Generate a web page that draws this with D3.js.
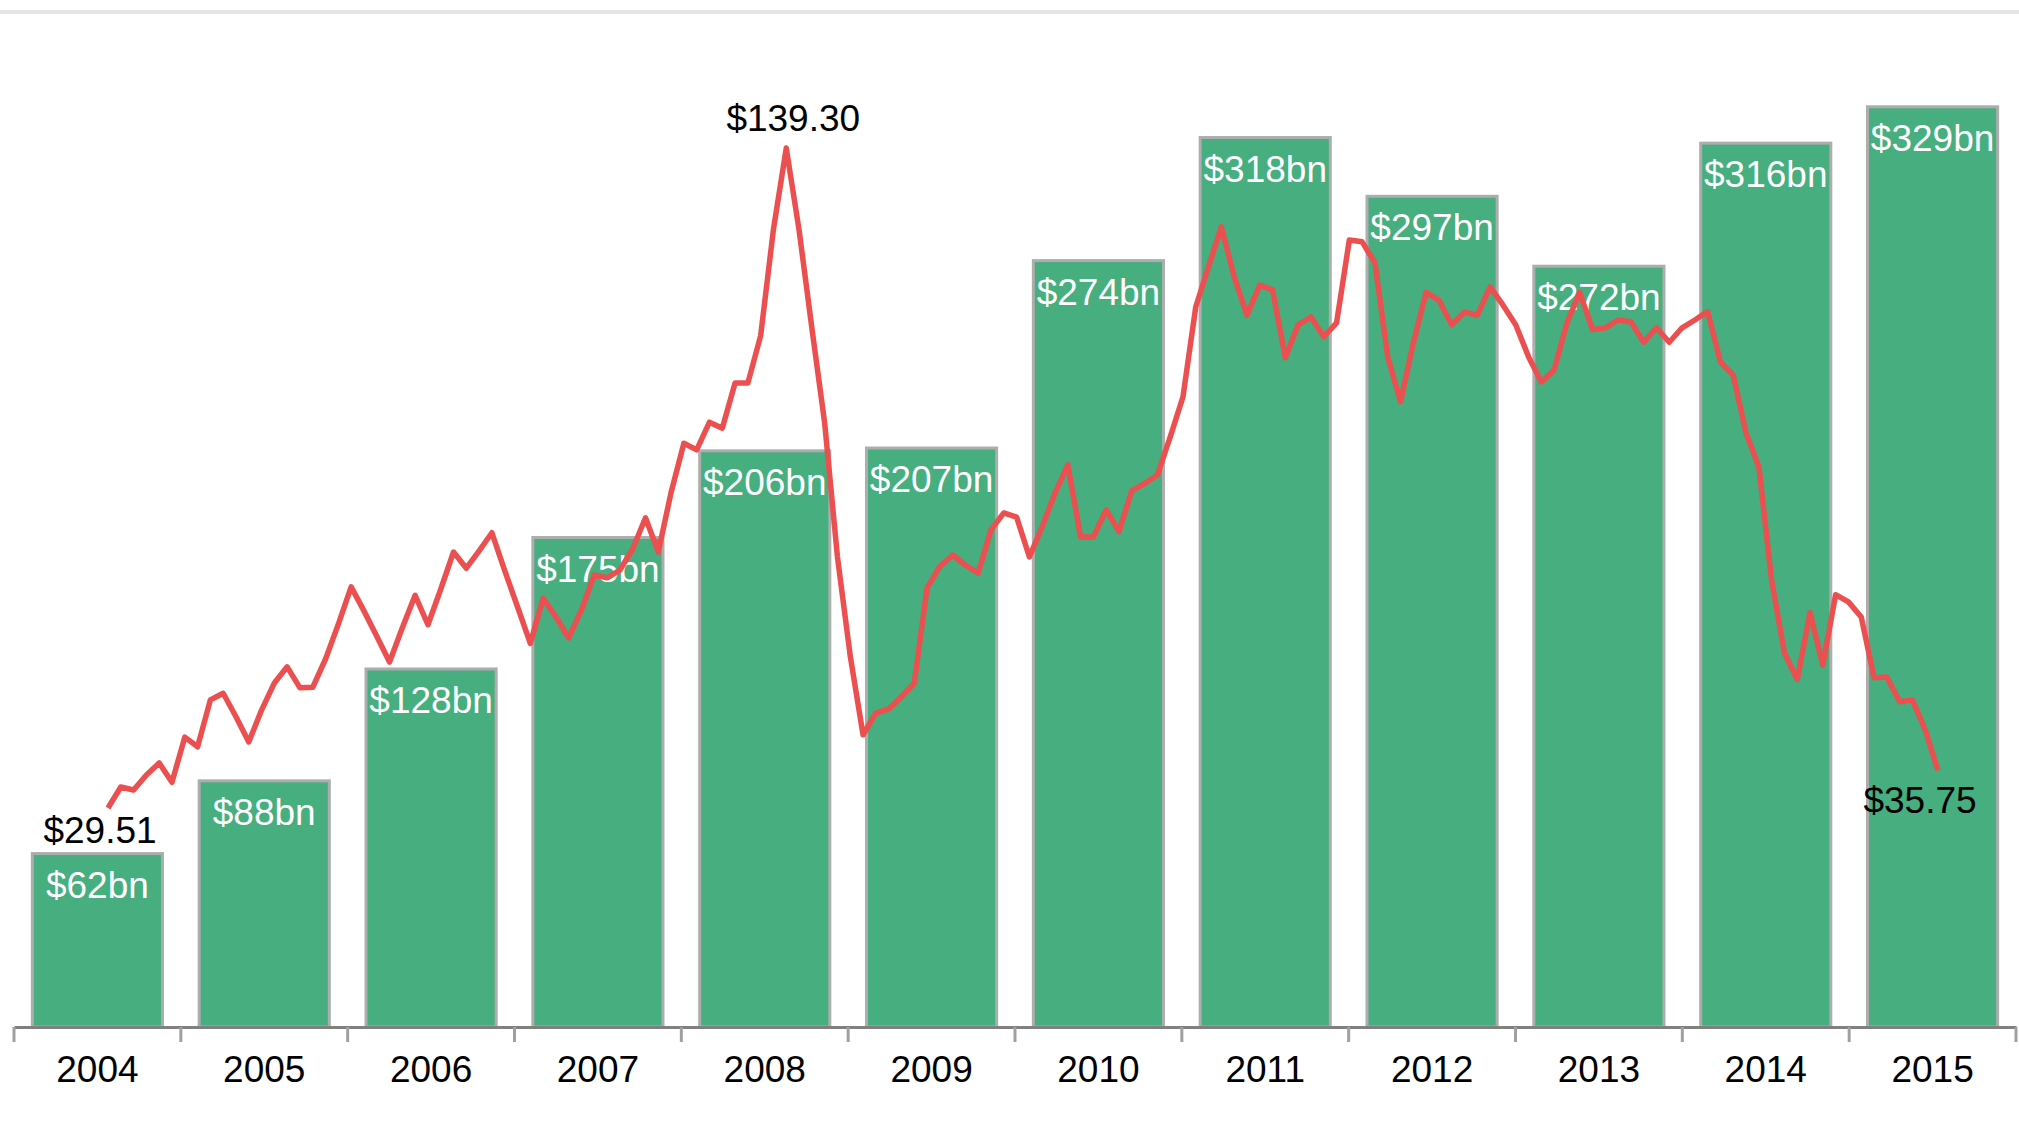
<!DOCTYPE html>
<html lang="en">
<head>
<meta charset="UTF-8">
<title>Revenue and oil price</title>
<script src="https://d3js.org/d3.v7.min.js"></script>
<style>
    html, body {
        margin: 0;
        padding: 0;
        background: #fff;
    }
    text {
        font-family: "Liberation Sans", Arial, sans-serif;
    }
</style>
</head>
<body>
<div id="chart"></div>
<script>
    // yearly bars ($bn)
    const years = ['2004', '2005', '2006', '2007', '2008', '2009', '2010', '2011', '2012', '2013', '2014', '2015'];
    const revenue = [62, 88, 128, 175, 206, 207, 274, 318, 297, 272, 316, 329];

    // monthly oil price ($/barrel), Jan 2004 - Dec 2015, one row per year
    const oilPrice = [
        29.51, 33.0, 32.5, 35.0, 37.0, 33.8, 41.3, 39.7, 47.5, 48.6, 44.7, 40.5,
        45.8, 50.3, 53.0, 49.5, 49.6, 54.3, 60.1, 66.3, 62.3, 58.1, 53.8, 59.5,
        64.9, 60.0, 65.9, 72.1, 69.4, 72.3, 75.3, 69.0, 63.0, 56.9, 64.4, 61.3,
        57.8, 62.5, 68.3, 67.8, 69.1, 72.6, 77.8, 72.1, 82.0, 90.2, 89.1, 93.7,
        92.7, 100.2, 100.2, 108.1, 125.8, 139.30, 125.7, 109.4, 93.6, 71.3, 54.8, 41.7,
        45.3, 46.0, 48.0, 50.3, 66.1, 69.7, 71.6, 69.9, 68.6, 75.8, 78.6, 77.9,
        71.3, 76.3, 81.9, 86.6, 74.6, 74.6, 79.1, 75.5, 82.3, 83.5, 84.9, 91.2,
        97.9, 112.9, 119.6, 126.2, 117.9, 111.5, 116.5, 115.7, 104.4, 109.9, 111.2, 107.9,
        110.2, 124.0, 123.7, 120.2, 104.6, 97.1, 106.9, 115.3, 114.0, 109.9, 112.0, 111.5,
        116.2, 113.2, 109.9, 104.6, 100.4, 102.4, 110.2, 115.3, 109.1, 109.4, 110.7, 110.4,
        107.0, 109.4, 107.0, 109.4, 110.7, 112.1, 103.7, 101.5, 91.9, 86.3, 67.4, 55.3,
        50.9, 62.0, 53.3, 65.0, 63.8, 61.3, 51.2, 51.3, 47.2, 47.5, 42.5, 35.75
    ];
    const months = d3.timeMonths(new Date(2004, 0, 1), new Date(2016, 0, 1));

    const width = 2019;
    const height = 1133;
    const axisY = 1027;

    const svg = d3.select('#chart').append('svg')
        .attr('width', width)
        .attr('height', height);

    // thin rule across the top
    svg.append('rect')
        .attr('x', 0).attr('y', 10)
        .attr('width', width).attr('height', 4)
        .attr('fill', '#e5e5e5');

    // bar scales
    const x = d3.scaleBand().domain(years).range([14, 2016]).paddingInner(0.22).paddingOuter(0.11);
    const yBar = d3.scaleLinear().domain([0, 350]).range([axisY, axisY - 350 * 2.797]);

    // line scales (secondary axis, own horizontal extent)
    const xMonth = d3.scalePoint().domain(months.map(d => +d)).range([108, 1938]);
    const yPrice = d3.scaleLinear().domain([0, 140]).range([985.4, 985.4 - 140 * 6.011]);

    // bars
    svg.append('g').selectAll('rect')
        .data(revenue)
        .join('rect')
        .attr('x', (d, i) => x(years[i]))
        .attr('y', d => yBar(d))
        .attr('width', x.bandwidth())
        .attr('height', d => yBar(0) - yBar(d))
        .attr('fill', '#46ae7f')
        .attr('stroke', '#adadad')
        .attr('stroke-width', 3);

    // bar labels
    svg.append('g').selectAll('text')
        .data(revenue)
        .join('text')
        .attr('x', (d, i) => x(years[i]) + x.bandwidth() / 2)
        .attr('y', d => yBar(d) + 44)
        .attr('text-anchor', 'middle')
        .attr('fill', '#fff')
        .attr('font-size', '37px')
        .text(d => '$' + d + 'bn');

    // x axis with year labels
    const xAxis = d3.axisBottom(x).tickSize(0).tickSizeOuter(0).tickPadding(29);
    const gX = svg.append('g').attr('transform', `translate(0, ${axisY})`).call(xAxis);
    gX.select('.domain').attr('stroke', '#808080').attr('stroke-width', 3);
    gX.selectAll('text')
        .attr('font-family', '"Liberation Sans", Arial, sans-serif')
        .attr('font-size', '37px')
        .attr('fill', '#000');

    // tick marks between categories
    const step = x.step();
    const edges = years.map(y => x(y) - step * x.paddingInner() / 2).concat([x(years[years.length - 1]) + x.bandwidth() + step * x.paddingInner() / 2]);
    gX.selectAll('.edge')
        .data(edges)
        .join('line')
        .attr('class', 'edge')
        .attr('x1', d => d).attr('x2', d => d)
        .attr('y1', 0).attr('y2', 15)
        .attr('stroke', '#a0a0a0')
        .attr('stroke-width', 3);

    // oil price line
    const line = d3.line()
        .x((d, i) => xMonth(+months[i]))
        .y(d => yPrice(d));
    svg.append('path')
        .datum(oilPrice)
        .attr('d', line)
        .attr('fill', 'none')
        .attr('stroke', '#eb4f4f')
        .attr('stroke-width', 5.5)
        .attr('stroke-linejoin', 'round');

    // price callouts: first, peak, last
    const fmt = d => '$' + d3.format('.2f')(d);
    const iMax = d3.maxIndex(oilPrice);
    const last = oilPrice.length - 1;
    const callouts = [
        {i: 0, dx: -8, dy: 35},
        {i: iMax, dx: 7, dy: -17},
        {i: last, dx: -18, dy: 42}
    ];
    svg.append('g').selectAll('text')
        .data(callouts)
        .join('text')
        .attr('x', d => xMonth(+months[d.i]) + d.dx)
        .attr('y', d => yPrice(oilPrice[d.i]) + d.dy)
        .attr('text-anchor', 'middle')
        .attr('fill', '#000')
        .attr('font-size', '37px')
        .text(d => fmt(oilPrice[d.i]));
</script>
</body>
</html>
